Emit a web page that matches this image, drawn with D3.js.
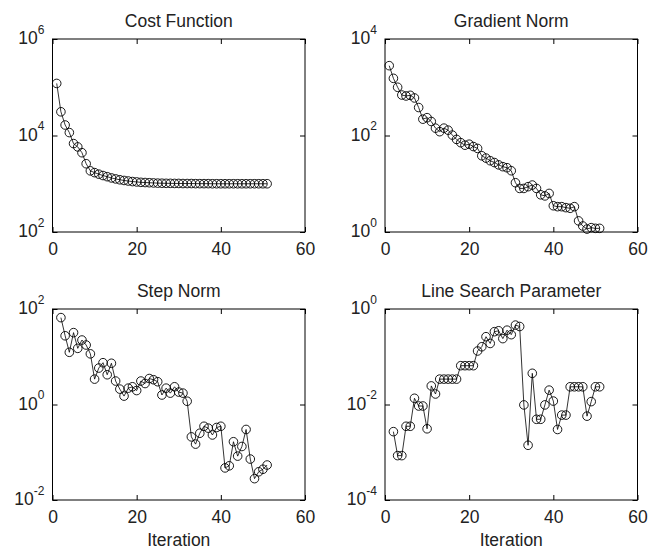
<!DOCTYPE html>
<html>
<head>
<meta charset="utf-8">
<script src="https://cdn.jsdelivr.net/npm/d3@7/dist/d3.min.js"></script>
<style>
  html, body { margin: 0; padding: 0; background: #ffffff; }
  svg { display: block; }
  text { font-family: "Liberation Sans", Arial, Helvetica, sans-serif; fill: #222; font-weight: normal; }
</style>
</head>
<body>
<svg id="chart" width="648" height="551"></svg>
<script>
// ---------------- data ----------------
const iterFull = [1,2,3,4,5,6,7,8,9,10,11,12,13,14,15,16,17,18,19,20,21,22,23,24,25,26,27,28,29,30,31,32,33,34,35,36,37,38,39,40,41,42,43,44,45,46,47,48,49,50,51];
const iterFrom2 = [2,3,4,5,6,7,8,9,10,11,12,13,14,15,16,17,18,19,20,21,22,23,24,25,26,27,28,29,30,31,32,33,34,35,36,37,38,39,40,41,42,43,44,45,46,47,48,49,50,51];

const costValues = [120000,31000,16500,11500,6800,5800,4400,2600,1850,1700,1580,1480,1400,1320,1260,1210,1170,1140,1110,1090,1070,1060,1050,1040,1030,1025,1020,1020,1015,1015,1010,1010,1010,1005,1005,1005,1005,1000,1000,1000,1000,1000,1000,1000,1000,1000,1000,1000,1000,1000,1000];

const gradValues = [2800,1530,1000,690,660,680,600,380,218,234,195,142,120,142,129,102,83,71,63,66,59,54,38,34,30,27.5,24.6,22.6,21.5,18.6,10.5,8.0,8.0,8.7,9.4,8.0,5.9,5.6,6.3,3.5,3.35,3.35,3.2,3.1,3.35,1.7,1.33,1.15,1.23,1.19,1.19];

const stepValues = [66,27.5,12.4,32,15,22.4,17.6,11.5,3.4,5.8,7.5,4.2,7.3,3.1,2.1,1.5,2.2,2.35,1.96,3.1,2.75,3.5,3.3,3.0,1.58,2.2,1.73,2.35,1.82,1.73,1.17,0.21,0.148,0.25,0.35,0.32,0.23,0.33,0.35,0.047,0.052,0.166,0.083,0.132,0.30,0.072,0.028,0.039,0.044,0.054];

const lineSearchValues = [0.0027,0.00085,0.00085,0.0035,0.0035,0.0135,0.0093,0.0093,0.0031,0.0245,0.0166,0.034,0.034,0.034,0.034,0.034,0.065,0.065,0.065,0.065,0.132,0.162,0.263,0.19,0.335,0.35,0.24,0.36,0.29,0.46,0.43,0.0098,0.0014,0.045,0.0049,0.0049,0.0098,0.02,0.0118,0.003,0.006,0.006,0.0235,0.0235,0.0235,0.0235,0.0057,0.0115,0.0235,0.0235];

const titles = ["Cost Function", "Gradient Norm", "Step Norm", "Line Search Parameter"];
const xTicks = [0, 20, 40, 60];
const yTicksCost = [1e2, 1e4, 1e6];
const yTicksGrad = [1e0, 1e2, 1e4];
const yTicksStep = [1e-2, 1e0, 1e2];
const yTicksLine = [1e-4, 1e-2, 1e0];
const xLabel = "Iteration";

// ---------------- layout ----------------
const panels = [
  { x: iterFull,  y: costValues,       yTicks: yTicksCost, title: titles[0], left: 52.5, right: 305,   top: 39,  bottom: 232, xlab: false },
  { x: iterFull,  y: gradValues,       yTicks: yTicksGrad, title: titles[1], left: 385,  right: 637.5, top: 39,  bottom: 232, xlab: false },
  { x: iterFrom2, y: stepValues,       yTicks: yTicksStep, title: titles[2], left: 52.5, right: 305,   top: 309, bottom: 500, xlab: true },
  { x: iterFrom2, y: lineSearchValues, yTicks: yTicksLine, title: titles[3], left: 385,  right: 637.5, top: 309, bottom: 500, xlab: true }
];

const svg = d3.select("#chart");
svg.append("rect").attr("width", 648).attr("height", 551).attr("fill", "#ffffff");

const FS = 17.5, SUP = 12, TICK = 5;

panels.forEach(p => {
  const w = p.right - p.left, h = p.bottom - p.top;
  const g = svg.append("g").attr("transform", `translate(${p.left},${p.top})`);
  const xs = d3.scaleLinear().domain([0, 60]).range([0, w]);
  const ys = d3.scaleLog().domain([p.yTicks[0], p.yTicks[2]]).range([h, 0]);

  const bottom = g.append("g").attr("transform", `translate(0,${h})`)
    .call(d3.axisBottom(xs).tickValues(xTicks).tickFormat(d3.format("d"))
      .tickSizeInner(-TICK).tickSizeOuter(0).tickPadding(11));
  const top = g.append("g")
    .call(d3.axisTop(xs).tickValues(xTicks).tickFormat("").tickSizeInner(-TICK).tickSizeOuter(0));
  const left = g.append("g")
    .call(d3.axisLeft(ys).tickValues(p.yTicks).tickFormat(d => "")
      .tickSizeInner(-TICK).tickSizeOuter(0).tickPadding(8));
  const right = g.append("g").attr("transform", `translate(${w},0)`)
    .call(d3.axisRight(ys).tickValues(p.yTicks).tickFormat("").tickSizeInner(-TICK).tickSizeOuter(0));

  [bottom, top, left, right].forEach(a => {
    a.select(".domain").remove();
    a.selectAll(".tick line").attr("stroke", "#000").attr("stroke-width", 1);
  });
  bottom.selectAll(".tick text").attr("font-size", FS).attr("font-family", null).attr("fill", "#222");

  left.selectAll(".tick text").each(function(d) {
    const t = d3.select(this);
    t.attr("font-size", FS).attr("font-family", null).attr("fill", "#222").attr("dy", "0.28em").text(null);
    t.append("tspan").text("10");
    t.append("tspan").attr("font-size", SUP).attr("dy", "-0.9em").text(String(Math.round(Math.log10(d))));
  });

  g.append("rect").attr("x", 0).attr("y", 0).attr("width", w).attr("height", h)
    .attr("fill", "none").attr("stroke", "#000").attr("stroke-width", 1);

  const pts = p.x.map((xv, i) => [xv, p.y[i]]);
  g.append("path").datum(pts)
    .attr("fill", "none").attr("stroke", "#000").attr("stroke-width", 0.8)
    .attr("d", d3.line().x(d => xs(d[0])).y(d => ys(d[1])));
  g.selectAll("circle.m").data(pts).join("circle").attr("class", "m")
    .attr("cx", d => xs(d[0])).attr("cy", d => ys(d[1])).attr("r", 4.3)
    .attr("fill", "none").attr("stroke", "#000").attr("stroke-width", 0.9);

  g.append("text").attr("x", w / 2).attr("y", -12).attr("text-anchor", "middle")
    .attr("font-size", FS).text(p.title);

  if (p.xlab) {
    g.append("text").attr("x", w / 2).attr("y", h + 46).attr("text-anchor", "middle")
      .attr("font-size", FS).text(xLabel);
  }
});
</script>
</body>
</html>
